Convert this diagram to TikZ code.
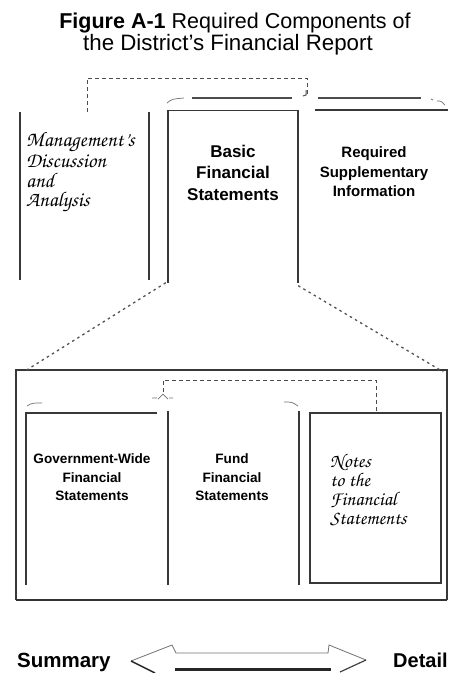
\documentclass[tikz,border=0pt]{standalone}
\usepackage[T1]{fontenc}
\usepackage{fontspec}
\setmainfont{Liberation Sans}
\newcommand{\chancery}{\fontencoding{T1}\fontfamily{pzc}\fontseries{mb}\fontshape{it}\selectfont}
\begin{document}
\begin{tikzpicture}[x=1pt,y=-1pt,
  edge/.style={line width=1.5pt, draw=black!78},
  heavy/.style={line width=2.4pt, draw=black!80},
  dashline/.style={line width=1pt, dash pattern=on 4pt off 3pt, draw=black!70},
  dotline/.style={line width=1.3pt, dash pattern=on 2.5pt off 3.5pt, draw=black!68},
  curl/.style={line width=0.7pt, draw=black!55},
  panel/.style={draw=none, inner sep=0pt},
  titletxt/.style={font=\fontsize{21.5}{22}\selectfont, anchor=base},
  bigbold/.style={font=\fontsize{17}{21}\selectfont\bfseries, anchor=base},
  midbold/.style={font=\fontsize{15}{20}\selectfont\bfseries, anchor=base},
  smallbold/.style={font=\fontsize{13.6}{19}\selectfont\bfseries, anchor=base},
  scripttxt/.style={font=\fontsize{21}{22}\chancery, anchor=base west, inner sep=0pt},
  notestxt/.style={font=\fontsize{19.5}{20}\chancery, anchor=base west, inner sep=0pt},
  bottomtxt/.style={font=\fontsize{20.5}{22}\selectfont\bfseries, anchor=base west, inner sep=0pt}
]
\useasboundingbox (0,0) rectangle (448,673);
\fill[white] (0,0) rectangle (448,673);

% title
\node[titletxt] (t1) at (235,28) {\textbf{Figure A-1} Required Components of};
\node[titletxt, font=\fontsize{22.3}{22}\selectfont] (t2) at (228,50) {the District's Financial Report};

% upper panels (frames as invisible nodes)
\node[panel, minimum width=129pt, minimum height=168pt] (mdna) at (84.5,196) {};
\node[panel, minimum width=130pt, minimum height=172pt] (bfs) at (233,196.5) {};
\node[panel, minimum width=133pt, minimum height=170pt] (rsi) at (381.5,195) {};

\draw[edge] (mdna.north west) -- (mdna.south west);
\draw[edge] (mdna.north east) -- (mdna.south east);
\draw[edge] (bfs.south west) -- (bfs.north west) -- (bfs.north east) -- (bfs.south east);
\draw[edge] (rsi.north west) -- (rsi.north east);

% upper back edges and curls
\coordinate (ub1) at (192,98);
\coordinate (ub2) at (292,98);
\coordinate (ub3) at (318,98);
\coordinate (ub4) at (421,98);
\draw[line width=1.2pt, draw=black!70] (ub1) -- (ub2);
\draw[line width=1.2pt, draw=black!70] (ub3) -- (ub4);
\draw[curl] (167,103) .. controls (172,99) .. (184,98);
\draw[curl] (431,99) -- (433,100) (437,101) .. controls (441,101) .. (445,105);

% texts upper
\node[scripttxt] (m1) at (26,146) {Management's};
\node[scripttxt] (m2) at (26,167) {Discussion};
\node[scripttxt] (m3) at (26,187) {and};
\node[scripttxt] (m4) at (26,206) {Analysis};

\node[bigbold] (b1) at (233,157) {Basic};
\node[bigbold] (b2) at (233,178.5) {Financial};
\node[bigbold] (b3) at (233,200) {Statements};

\node[midbold] (r1) at (374,157) {Required};
\node[midbold] (r2) at (374,177) {Supplementary};
\node[midbold] (r3) at (374,196) {Information};

% dashed link MD&A -> BFS
\coordinate (d0) at (87,112);
\coordinate (d1) at (87,78);
\coordinate (d2) at (307,78);
\coordinate (d3) at (307,94);
\draw[dashline] (d0) -- (d1) -- (d2) -- (d3);
\draw[line width=1pt, draw=black!70] (306,90) -- (306,95) -- (303,96);

% lower big box
\node[panel, minimum width=431pt, minimum height=230pt] (box) at (231.5,485) {};
\draw[edge] (box.south west) -- (box.north west) -- (box.north east) -- (box.south east);
\draw[heavy] (box.south west) -- (box.south east);

% dotted expansion lines
\draw[dotline] ([xshift=-2pt]bfs.south west) -- ([xshift=8pt,yshift=-2pt]box.north west);
\draw[dotline] ([yshift=-3pt]bfs.south east) -- ([xshift=-4pt,yshift=-2pt]box.north east);

% lower panels
\node[panel, minimum width=142pt, minimum height=172pt] (gov) at (97,499) {};
\node[panel, minimum width=131pt, minimum height=172pt] (fund) at (233.5,499) {};
\node[panel, minimum width=131pt, minimum height=170pt] (notes) at (375.5,498) {};

\draw[edge] (gov.south west) -- (gov.north west) -- ([xshift=-11pt]gov.north east);
\draw[edge] ([yshift=2pt]gov.north east) -- (gov.south east);
\draw[edge] ([yshift=2pt]fund.north east) -- (fund.south east);
\draw[edge] (notes.north west) rectangle (notes.south east);

% lower curls
\draw[curl] (27,406) .. controls (32,403) .. (42,403);
\draw[curl] (152,398) -- (157,398) (158,399) -- (163,394) -- (168,399) (169,398) -- (173,398);
\draw[curl] (284,402) .. controls (292,402) .. (298,406);

% dashed link Notes -> Gov/Fund
\coordinate (e0) at (163,392);
\coordinate (e1) at (163,380);
\coordinate (e2) at (376,380);
\draw[dashline] (e0) -- (e1) -- (e2) -- (notes.north -| e2);

% lower texts
\node[smallbold] (g1) at (92,463) {Government-Wide};
\node[smallbold] (g2) at (92,482) {Financial};
\node[smallbold] (g3) at (92,500) {Statements};

\node[smallbold] (f1) at (232,463) {Fund};
\node[smallbold] (f2) at (232,482) {Financial};
\node[smallbold] (f3) at (232,500) {Statements};

\node[notestxt] (n1) at (330,467) {Notes};
\node[notestxt] (n2) at (330,486) {to the};
\node[notestxt] (n3) at (330,505) {Financial};
\node[notestxt] (n4) at (330,524) {Statements};

% bottom scale
\node[bottomtxt] (sum) at (17,667) {Summary};
\node[bottomtxt, font=\fontsize{20}{22}\selectfont\bfseries] (det) at (393,667) {Detail};

\draw[line width=0.8pt, draw=black!55] (131,661) -- (172,645) -- (176,653) -- (328,653) -- (329,645) -- (366,660);
\draw[line width=1.4pt, draw=black!85] (131,661) -- (155,673);
\draw[line width=2.2pt, draw=black!85] (175,669.5) -- (331,669.5);
\draw[line width=1.2pt, draw=black!75] (366,660) -- (340,672);
\end{tikzpicture}
\end{document}
